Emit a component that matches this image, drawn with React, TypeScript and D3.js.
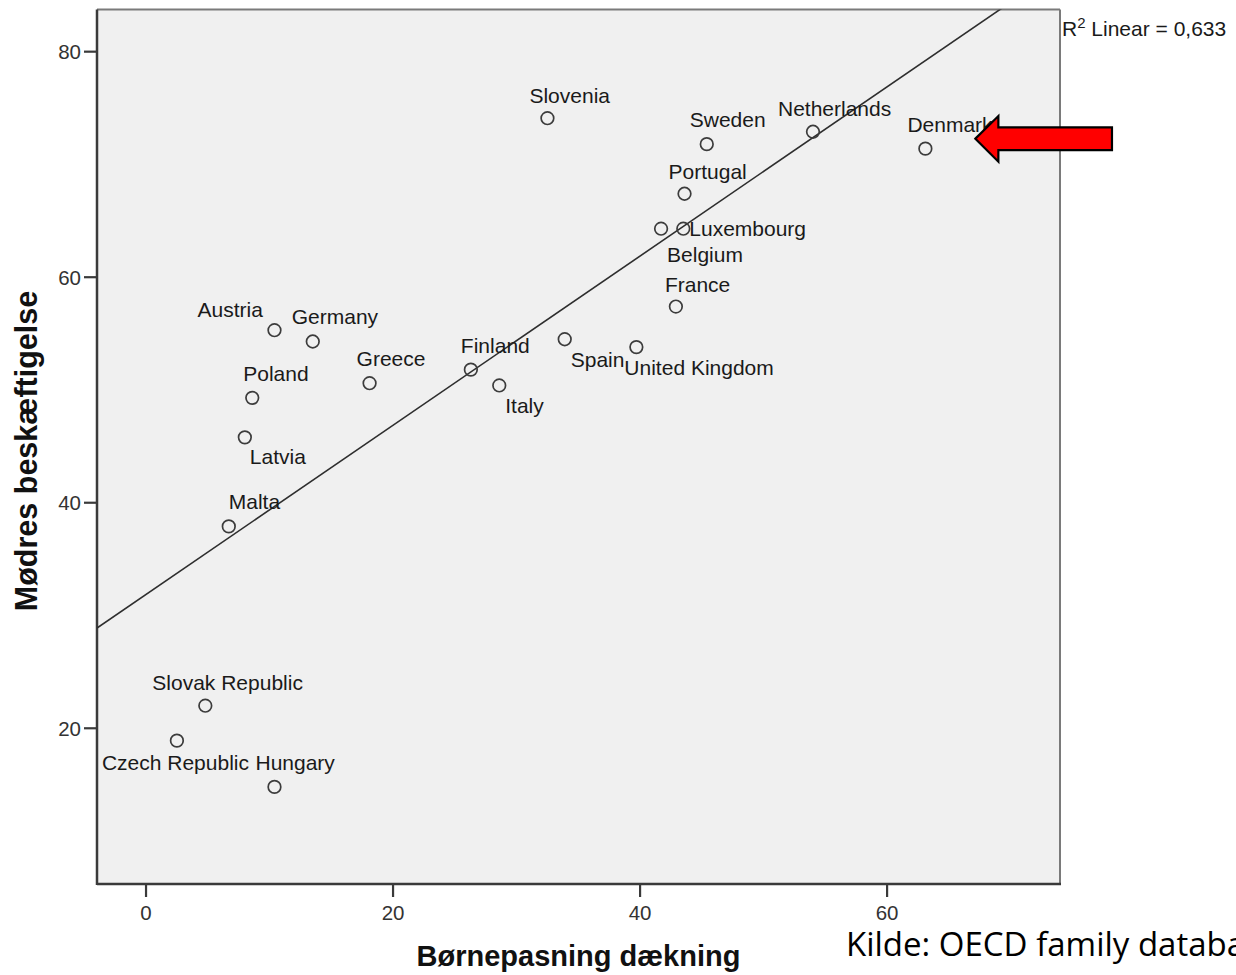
import React from "react";
import * as d3 from "d3";

// ---- Data ----
const countries = [
  "Slovenia", "Sweden", "Netherlands", "Denmark", "Portugal", "Belgium", "Luxembourg",
  "France", "Austria", "Germany", "Greece", "Finland", "Italy", "Spain", "United Kingdom",
  "Poland", "Latvia", "Malta", "Slovak Republic", "Czech Republic", "Hungary",
];
const childcareCoverage = [
  32.5, 45.4, 54.0, 63.1, 43.6, 41.7, 43.5,
  42.9, 10.4, 13.5, 18.1, 26.3, 28.6, 33.9, 39.7,
  8.6, 8.0, 6.7, 4.8, 2.5, 10.4,
];
const motherEmployment = [
  74.1, 71.8, 72.9, 71.4, 67.4, 64.3, 64.3,
  57.4, 55.3, 54.3, 50.6, 51.8, 50.4, 54.5, 53.8,
  49.3, 45.8, 37.9, 22.0, 18.9, 14.8,
];
const xTicks = [0, 20, 40, 60];
const yTicks = [20, 40, 60, 80];
const r2Text = "0,633";

// label placement (pixel offsets from each point, layout only)
const labelOffsets: [number, number][] = [
  [-18, -15], [-17, -17], [-35, -16], [-18, -17], [-16, -15], [6, 33], [6, 7],
  [-11, -15], [-77, -13], [-21, -17], [-13, -17], [-10, -17], [6, 28], [6, 28], [-12, 28],
  [-9, -17], [5, 27], [0, -17], [-53, -16], [-75, 29], [-19, -17],
];

const W = 1236;
const H = 975;
const plot = { left: 97, right: 1060, top: 9.5, bottom: 884 };

export default function App() {
  const x = d3.scaleLinear().domain([-3.97, 74.0]).range([plot.left, plot.right]);
  const y = d3.scaleLinear().domain([6.19, 83.74]).range([plot.bottom, plot.top]);

  // OLS fit
  const mx = d3.mean(childcareCoverage)!;
  const my = d3.mean(motherEmployment)!;
  let sxy = 0, sxx = 0;
  childcareCoverage.forEach((v, i) => {
    sxy += (v - mx) * (motherEmployment[i] - my);
    sxx += (v - mx) * (v - mx);
  });
  const slope = sxy / sxx;
  const intercept = my - slope * mx;
  const [x0, x1] = x.domain();
  const line = d3.line<number>().x((d) => x(d)).y((d) => y(intercept + slope * d));
  const fitPath = line([x0, x1]) || "";

  const font = "'Liberation Sans', Arial, sans-serif";
  const dk = countries.indexOf("Denmark");
  const dx = x(childcareCoverage[dk]);
  const dy = y(motherEmployment[dk]);
  const arrowPts = [
    [dx + 50, dy - 10],
    [dx + 73, dy - 32.6],
    [dx + 73, dy - 21.3],
    [dx + 186.6, dy - 21.3],
    [dx + 186.6, dy + 1.4],
    [dx + 73, dy + 1.4],
    [dx + 73, dy + 13],
  ];

  return (
    <svg
      width={W}
      height={H}
      style={{ position: "absolute", left: 0, top: 0, background: "#fff" }}
    >
      <defs>
        <clipPath id="plotClip">
          <rect x={plot.left} y={plot.top} width={plot.right - plot.left} height={plot.bottom - plot.top} />
        </clipPath>
      </defs>
      <rect x={0} y={0} width={W} height={H} fill="#fff" />
      <rect
        x={plot.left}
        y={plot.top}
        width={plot.right - plot.left}
        height={plot.bottom - plot.top}
        fill="#f0f0f0"
      />
      {/* frame: top & right lighter */}
      <line x1={plot.left} x2={plot.right} y1={plot.top} y2={plot.top} stroke="#7a7a7a" strokeWidth={2} />
      <line x1={plot.right} x2={plot.right} y1={plot.top} y2={plot.bottom} stroke="#7a7a7a" strokeWidth={2} />
      {/* axes */}
      <line x1={plot.left} x2={plot.left} y1={plot.top} y2={plot.bottom + 1} stroke="#3a3a3a" strokeWidth={2.5} />
      <line x1={plot.left} x2={plot.right + 1} y1={plot.bottom} y2={plot.bottom} stroke="#3a3a3a" strokeWidth={2.5} />

      {yTicks.map((t) => (
        <g key={"y" + t}>
          <line x1={plot.left - 13} x2={plot.left} y1={y(t)} y2={y(t)} stroke="#3a3a3a" strokeWidth={2.2} />
          <text
            x={plot.left - 16}
            y={y(t)}
            dy="0.36em"
            textAnchor="end"
            fontFamily={font}
            fontSize={20.5}
            fill="#333"
          >
            {t}
          </text>
        </g>
      ))}
      {xTicks.map((t) => (
        <g key={"x" + t}>
          <line x1={x(t)} x2={x(t)} y1={plot.bottom} y2={plot.bottom + 13} stroke="#3a3a3a" strokeWidth={2.2} />
          <text x={x(t)} y={920} textAnchor="middle" fontFamily={font} fontSize={20.5} fill="#333">
            {t}
          </text>
        </g>
      ))}

      {/* fit line */}
      <path d={fitPath} stroke="#2e2e2e" strokeWidth={1.6} fill="none" clipPath="url(#plotClip)" />

      {/* points */}
      {countries.map((c, i) => (
        <circle
          key={c}
          cx={x(childcareCoverage[i])}
          cy={y(motherEmployment[i])}
          r={6.3}
          fill="none"
          stroke="#3c3c3c"
          strokeWidth={1.7}
        />
      ))}
      {countries.map((c, i) => (
        <text
          key={"l" + c}
          x={x(childcareCoverage[i]) + labelOffsets[i][0]}
          y={y(motherEmployment[i]) + labelOffsets[i][1]}
          fontFamily={font}
          fontSize={21}
          fill="#1a1a1a"
        >
          {c}
        </text>
      ))}

      {/* R2 */}
      <text x={1062} y={36} fontFamily={font} fontSize={21} fill="#1a1a1a">
        R
        <tspan fontSize={15} dy={-8}>2</tspan>
        <tspan dy={8}> Linear = {r2Text}</tspan>
      </text>

      {/* axis titles */}
      <text
        x={(plot.left + plot.right) / 2}
        y={966}
        textAnchor="middle"
        fontFamily={font}
        fontWeight="bold"
        fontSize={29}
        fill="#111"
      >
        Børnepasning dækning
      </text>
      <text
        transform={`translate(37, ${451}) rotate(-90)`}
        textAnchor="middle"
        fontFamily={font}
        fontWeight="bold"
        fontSize={30.5}
        fill="#111"
      >
        Mødres beskæftigelse
      </text>

      {/* arrow annotation */}
      <polygon
        points={arrowPts.map((p) => p.join(",")).join(" ")}
        fill="#ff0000"
        stroke="#000"
        strokeWidth={2.2}
        strokeLinejoin="miter"
      />

      {/* source */}
      <text x={846} y={956} fontFamily="'Open Sans', sans-serif" fontSize={33} fill="#000">
        Kilde: OECD family database
      </text>
    </svg>
  );
}
